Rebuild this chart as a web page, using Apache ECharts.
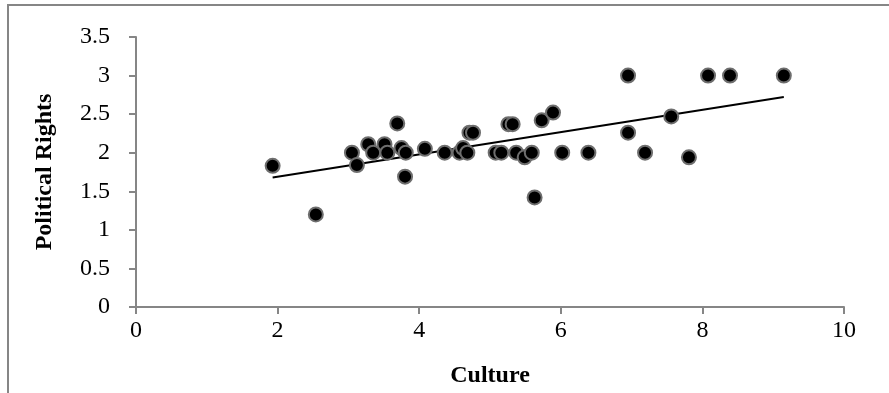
<!DOCTYPE html>
<html>
<head>
<meta charset="utf-8">
<script src="https://cdn.jsdelivr.net/npm/echarts@6/dist/echarts.min.js"></script>
<style>
  html, body { margin: 0; padding: 0; background: #fff; }
  #chart { width: 889px; height: 393px; }
</style>
</head>
<body>
<div id="chart"></div>
<script>
// Culture score of each case
const culture = [
  1.93, 2.54, 3.05, 3.12, 3.28, 3.35, 3.51, 3.55, 3.69, 3.75,
  3.81, 3.80, 4.08, 4.36, 4.57, 4.62, 4.68, 4.71, 4.76, 5.08,
  5.16, 5.26, 5.32, 5.37, 5.49, 5.59, 5.63, 5.73, 5.89, 6.02,
  6.39, 6.95, 6.95, 7.19, 7.56, 7.81, 8.08, 8.39, 9.15
];
// Political rights score, same order
const politicalRights = [
  1.83, 1.20, 2.00, 1.84, 2.11, 2.00, 2.11, 2.00, 2.38, 2.06,
  2.00, 1.69, 2.05, 2.00, 2.00, 2.06, 2.00, 2.26, 2.26, 2.00,
  2.00, 2.37, 2.37, 2.00, 1.94, 2.00, 1.42, 2.42, 2.52, 2.00,
  2.00, 3.00, 2.26, 2.00, 2.47, 1.94, 3.00, 3.00, 3.00
];

const points = culture.map((x, i) => [x, politicalRights[i]]);

// linear trend line (least squares)
const n = culture.length;
const mx = culture.reduce((a, b) => a + b, 0) / n;
const my = politicalRights.reduce((a, b) => a + b, 0) / n;
let sxy = 0, sxx = 0;
for (let i = 0; i < n; i++) {
  sxy += (culture[i] - mx) * (politicalRights[i] - my);
  sxx += (culture[i] - mx) * (culture[i] - mx);
}
const slope = sxy / sxx;
const intercept = my - slope * mx;
const xMin = Math.min(...culture);
const xMax = Math.max(...culture);
const trend = [[xMin, intercept + slope * xMin], [xMax, intercept + slope * xMax]];

const font = 'Liberation Serif';
const axisGray = '#868686';

const myChart = echarts.init(document.getElementById('chart'));
myChart.setOption({
  animation: false,
  textStyle: { fontFamily: font },
  graphic: [
    {
      type: 'polyline',
      shape: { points: [[8, 393], [8, 5], [889, 5]] },
      style: { stroke: axisGray, lineWidth: 2, fill: null },
    },
  ],
  grid: { left: 136, right: 45, top: 37, bottom: 81 },
  xAxis: {
    type: 'value',
    min: 0,
    max: 10,
    interval: 2,
    name: 'Culture',
    nameLocation: 'middle',
    nameGap: 57,
    nameTextStyle: { fontFamily: font, fontSize: 24, fontWeight: 'bold', color: '#000' },
    axisLine: { show: true, lineStyle: { color: axisGray, width: 2 } },
    axisTick: { show: true, length: 7, lineStyle: { color: axisGray, width: 2 } },
    axisLabel: { fontFamily: font, fontSize: 24, color: '#000', margin: 12 },
    splitLine: { show: false },
  },
  yAxis: {
    type: 'value',
    min: 0,
    max: 3.5,
    interval: 0.5,
    name: 'Political Rights',
    nameLocation: 'middle',
    nameGap: 79,
    nameTextStyle: { fontFamily: font, fontSize: 24, fontWeight: 'bold', color: '#000' },
    axisLine: { show: true, lineStyle: { color: axisGray, width: 2 } },
    axisTick: { show: true, length: 7, lineStyle: { color: axisGray, width: 2 } },
    axisLabel: { fontFamily: font, fontSize: 24, color: '#000', margin: 26 },
    splitLine: { show: false },
  },
  series: [
    {
      name: 'Trend',
      type: 'line',
      data: trend,
      symbol: 'none',
      lineStyle: { color: '#000', width: 2 },
      z: 3,
    },
    {
      name: 'Cases',
      type: 'scatter',
      data: points,
      symbolSize: 14,
      itemStyle: { color: '#000', borderColor: '#6e6e6e', borderWidth: 2, opacity: 1 },
      z: 4,
    },
  ],
});
</script>
</body>
</html>
